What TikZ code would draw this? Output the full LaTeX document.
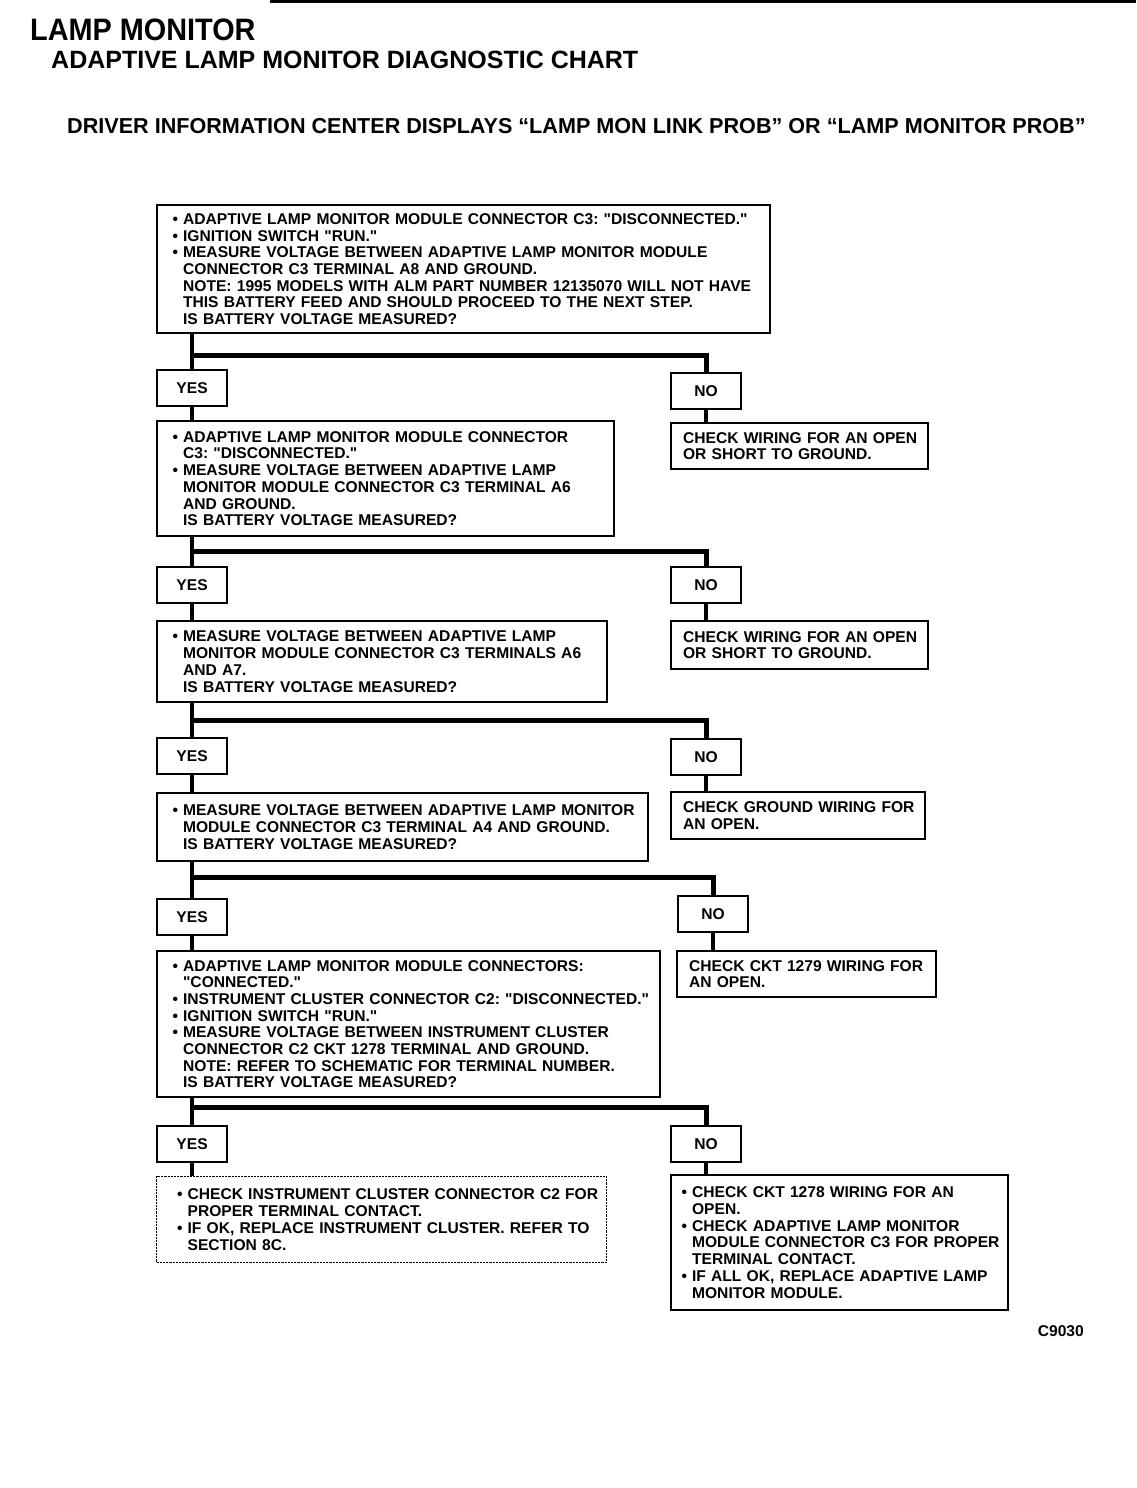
\documentclass[tikz,border=0pt]{standalone}
\usepackage{fontspec}
\setmainfont{Liberation Sans}
\newfontfamily\almhead[FakeStretch=0.93]{Liberation Sans Bold}
\usetikzlibrary{positioning,calc}
\newcommand{\almtext}{\fontsize{15.6}{16.7}\selectfont\bfseries\frenchspacing\hyphenpenalty=10000\relax}
\newcommand{\blt}{\leavevmode\llap{\textbullet\hspace{5pt}}}
\newcommand{\almq}[1]{\textquotedbl#1\textquotedbl}
\tikzset{
  almbox/.style={draw, line width=2.2pt, anchor=north west, align=left, inner xsep=0pt, inner ysep=3pt, font=\almtext, execute at begin node={\leftskip=12pt\rightskip=0pt plus 1fil minus 40pt\relax}},
  almlist/.style={almbox, execute at begin node={\leftskip=26pt\rightskip=0pt plus 1fil minus 40pt\relax}},
  almtag/.style={draw, line width=2.2pt, anchor=north west, inner sep=0pt, minimum width=70pt, minimum height=36pt, font=\almtext},
  almtrunk/.style={line width=4.5pt},
  almbranch/.style={line width=5pt},
}

\begin{document}
\begin{tikzpicture}[x=1pt, y=-1pt]
  \useasboundingbox (0,0) rectangle (1136,1488);
  \draw[line width=3pt] (270,1.5) -- (1136,1.5);

  % headings
  \node[anchor=base west, inner sep=0pt, font=\almhead\fontsize{31}{31}\selectfont] (title) at (30,41) {LAMP MONITOR};
  \node[anchor=base west, inner sep=0pt, font=\fontsize{25}{25}\selectfont\bfseries] (subtitle) at (51,69) {ADAPTIVE LAMP MONITOR DIAGNOSTIC CHART};
  \node[anchor=base west, inner sep=0pt, font=\fontsize{21.6}{21.6}\selectfont\bfseries] (symptom) at (67,133) {DRIVER INFORMATION CENTER DISPLAYS “LAMP MON LINK PROB” OR “LAMP MONITOR PROB”};

  % step 1
  \node[almlist, text width=613pt, minimum height=128pt] (q1) at (156,204) {\blt ADAPTIVE LAMP MONITOR MODULE CONNECTOR C3: \almq{DISCONNECTED.}\\
    \blt IGNITION SWITCH \almq{RUN.}\\
    \blt MEASURE VOLTAGE BETWEEN ADAPTIVE LAMP MONITOR MODULE\\
    CONNECTOR C3 TERMINAL A8 AND GROUND.\\
    NOTE: 1995 MODELS WITH ALM PART NUMBER 12135070 WILL NOT HAVE\\
    THIS BATTERY FEED AND SHOULD PROCEED TO THE NEXT STEP.\\
    IS BATTERY VOLTAGE MEASURED?};
  \node[almtag] (yes1) at (156,369) {YES};
  \node[almtag] (no1) at (670,372) {NO};
  \node[almbox, text width=257pt, minimum height=46pt] (fix1) at (670,422) {CHECK WIRING FOR AN OPEN\\ OR SHORT TO GROUND.};

  % step 2
  \node[almlist, text width=457pt, minimum height=115pt] (q2) at (156,420) {\blt ADAPTIVE LAMP MONITOR MODULE CONNECTOR\\
    C3: \almq{DISCONNECTED.}\\
    \blt MEASURE VOLTAGE BETWEEN ADAPTIVE LAMP\\
    MONITOR MODULE CONNECTOR C3 TERMINAL A6\\
    AND GROUND.\\
    IS BATTERY VOLTAGE MEASURED?};
  \node[almtag] (yes2) at (156,566) {YES};
  \node[almtag] (no2) at (670,566) {NO};
  \node[almbox, text width=257pt, minimum height=48pt] (fix2) at (670,620) {CHECK WIRING FOR AN OPEN\\ OR SHORT TO GROUND.};

  % step 3
  \node[almlist, text width=450pt, minimum height=81pt] (q3) at (156,620) {\blt MEASURE VOLTAGE BETWEEN ADAPTIVE LAMP\\
    MONITOR MODULE CONNECTOR C3 TERMINALS A6\\
    AND A7.\\
    IS BATTERY VOLTAGE MEASURED?};
  \node[almtag] (yes3) at (156,737) {YES};
  \node[almtag] (no3) at (670,738) {NO};
  \node[almbox, text width=254pt, minimum height=47pt] (fix3) at (670,791) {CHECK GROUND WIRING FOR\\ AN OPEN.};

  % step 4
  \node[almlist, text width=491pt, minimum height=68pt] (q4) at (156,792) {\blt MEASURE VOLTAGE BETWEEN ADAPTIVE LAMP MONITOR\\
    MODULE CONNECTOR C3 TERMINAL A4 AND GROUND.\\
    IS BATTERY VOLTAGE MEASURED?};
  \node[almtag] (yes4) at (156,898) {YES};
  \node[almtag] (no4) at (677,895) {NO};
  \node[almbox, text width=259pt, minimum height=46pt] (fix4) at (676,950) {CHECK CKT 1279 WIRING FOR\\ AN OPEN.};

  % step 5
  \node[almlist, text width=503pt, minimum height=146pt] (q5) at (156,950) {\blt ADAPTIVE LAMP MONITOR MODULE CONNECTORS:\\
    \almq{CONNECTED.}\\
    \blt INSTRUMENT CLUSTER CONNECTOR C2: \almq{DISCONNECTED.}\\
    \blt IGNITION SWITCH \almq{RUN.}\\
    \blt MEASURE VOLTAGE BETWEEN INSTRUMENT CLUSTER\\
    CONNECTOR C2 CKT 1278 TERMINAL AND GROUND.\\
    NOTE: REFER TO SCHEMATIC FOR TERMINAL NUMBER.\\
    IS BATTERY VOLTAGE MEASURED?};
  \node[almtag] (yes5) at (156,1125) {YES};
  \node[almtag] (no5) at (670,1125) {NO};
  \node[almlist, densely dotted, line width=1.2pt, text width=450pt, minimum height=86pt, execute at begin node={\leftskip=31pt\rightskip=0pt plus 1fil minus 40pt\relax}] (done) at (156,1176) {\blt CHECK INSTRUMENT CLUSTER CONNECTOR C2 FOR\\
    PROPER TERMINAL CONTACT.\\
    \blt IF OK, REPLACE INSTRUMENT CLUSTER. REFER TO\\
    SECTION 8C.};
  \node[almlist, text width=337pt, minimum height=135pt, execute at begin node={\leftskip=21pt\rightskip=0pt plus 1fil minus 40pt\relax}] (fix5) at (670,1174) {\blt CHECK CKT 1278 WIRING FOR AN\\
    OPEN.\\
    \blt CHECK ADAPTIVE LAMP MONITOR\\
    MODULE CONNECTOR C3 FOR PROPER\\
    TERMINAL CONTACT.\\
    \blt IF ALL OK, REPLACE ADAPTIVE LAMP\\
    MONITOR MODULE.};

  \node[anchor=base east, inner sep=0pt, font=\almtext] (code) at (1084,1336) {C9030};

  % branch points
  \coordinate (br1) at (192,355);
  \coordinate (br2) at (192,551);
  \coordinate (br3) at (192,720);
  \coordinate (br4) at (192,877);
  \coordinate (br5) at (192,1107);

  % connectors
  \draw[almtrunk] (yes1 |- q1.south) -- (yes1.north);
  \draw[almbranch] (yes1 |- br1) -| (no1.north);
  \draw[almtrunk] (yes1.south) -- (yes1 |- q2.north);
  \draw[almtrunk] (no1.south) -- (no1 |- fix1.north);

  \draw[almtrunk] (yes2 |- q2.south) -- (yes2.north);
  \draw[almbranch] (yes2 |- br2) -| (no2.north);
  \draw[almtrunk] (yes2.south) -- (yes2 |- q3.north);
  \draw[almtrunk] (no2.south) -- (no2 |- fix2.north);

  \draw[almtrunk] (yes3 |- q3.south) -- (yes3.north);
  \draw[almbranch] (yes3 |- br3) -| (no3.north);
  \draw[almtrunk] (yes3.south) -- (yes3 |- q4.north);
  \draw[almtrunk] (no3.south) -- (no3 |- fix3.north);

  \draw[almtrunk] (yes4 |- q4.south) -- (yes4.north);
  \draw[almbranch] (yes4 |- br4) -| (no4.north);
  \draw[almtrunk] (yes4.south) -- (yes4 |- q5.north);
  \draw[almtrunk] (no4.south) -- (no4 |- fix4.north);

  \draw[almtrunk] (yes5 |- q5.south) -- (yes5.north);
  \draw[almbranch] (yes5 |- br5) -| (no5.north);
  \draw[almtrunk] (yes5.south) -- (yes5 |- done.north);
  \draw[almtrunk] (no5.south) -- (no5 |- fix5.north);
\end{tikzpicture}
\end{document}
